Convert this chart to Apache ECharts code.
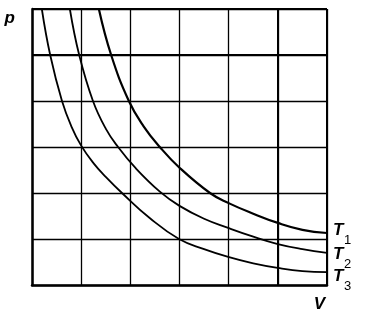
<!DOCTYPE html>
<html>
<head>
<meta charset="utf-8">
<script src="https://cdn.jsdelivr.net/npm/echarts@6/dist/echarts.min.js"></script>
<style>html,body{margin:0;padding:0;background:#fff}#c{width:368px;height:324px}</style>
</head>
<body>
<div id="c"></div>
<script>
// Isotherms p(V) in grid units (V: 0..6, p: 0..6)
var seriesNames = ['T1', 'T2', 'T3'];
var subscripts = ['1', '2', '3'];
var t1 = [[1.36,6.0],[1.61,5.0],[1.97,4.0],[2.27,3.45],[2.6,3.0],[3.0,2.55],[3.62,2.0],[4.0,1.78],[4.5,1.55],[5.0,1.35],[5.5,1.2],[6.0,1.13]];
var t2 = [[0.77,6.0],[0.96,5.0],[1.24,4.0],[1.5,3.4],[1.75,3.0],[2.1,2.55],[2.6,2.03],[3.0,1.72],[3.5,1.44],[3.99,1.24],[4.5,1.05],[5.0,0.89],[5.5,0.78],[6.0,0.70]];
var t3 = [[0.20,6.0],[0.37,5.0],[0.61,4.0],[0.8,3.45],[1.0,3.03],[1.25,2.65],[1.5,2.35],[1.83,2.0],[2.4,1.45],[2.99,1.0],[3.5,0.78],[3.99,0.61],[4.5,0.47],[5.0,0.37],[5.5,0.3],[6.0,0.28]];
var allData = [t1, t2, t3];
var axisMin = 0, axisMax = 6, axisInterval = 1;
var heavyV = [5, 6];
var heavyP = [5, 6];

// label placement (pixels relative to each curve's end)
var labelDy = [-8, -4, -1];
var labelDx = 6;

var chart = echarts.init(document.getElementById('c'), null, {renderer: 'canvas'});
var labelFont = 'Liberation Sans';

var series = allData.map(function (d, i) {
  var s = {
    name: seriesNames[i],
    type: 'line',
    data: d,
    smooth: 0.45,
    showSymbol: false,
    symbol: 'none',
    clip: true,
    lineStyle: {color: '#000', width: i === 0 ? 2.2 : 1.8}
  };
  if (i === 0) {
    s.markLine = {
      silent: true,
      symbol: 'none',
      label: {show: false},
      animation: false,
      lineStyle: {color: '#000', width: 2, type: 'solid'},
      data: heavyV.map(function (v) { return {xAxis: v}; }).concat(heavyP.map(function (p) { return {yAxis: p}; }))
    };
  }
  return s;
});

chart.setOption({
  animation: false,
  grid: {left: 32, right: 41, top: 9, bottom: 39},
  xAxis: {
    type: 'value', min: axisMin, max: axisMax, interval: axisInterval,
    name: 'V', nameLocation: 'end', nameGap: 0,
    nameTextStyle: {fontFamily: labelFont, fontSize: 17, fontWeight: 'bold', fontStyle: 'italic', color: '#000', align: 'right', verticalAlign: 'top', padding: [11, 2, 0, 0]},
    axisLine: {show: true, lineStyle: {color: '#000', width: 2.5}},
    axisTick: {show: false}, axisLabel: {show: false},
    splitLine: {show: true, lineStyle: {color: '#000', width: 1.3}}
  },
  yAxis: {
    type: 'value', min: axisMin, max: axisMax, interval: axisInterval,
    name: 'p', nameLocation: 'end', nameGap: 0,
    nameTextStyle: {fontFamily: labelFont, fontSize: 17, fontWeight: 'bold', fontStyle: 'italic', color: '#000', align: 'right', verticalAlign: 'top', padding: [1, 17, 0, 0]},
    axisLine: {show: true, lineStyle: {color: '#000', width: 2.5}},
    axisTick: {show: false}, axisLabel: {show: false},
    splitLine: {show: true, lineStyle: {color: '#000', width: 1.3}}
  },
  series: series
});

var els = [];
allData.forEach(function (d, i) {
  var last = d[d.length - 1];
  var pt = chart.convertToPixel({gridIndex: 0}, last);
  var x = pt[0] + labelDx, y = pt[1] + labelDy[i];
  els.push({type: 'text', left: x, top: y - 3, silent: true,
    style: {text: 'T', font: 'italic bold 17px "Liberation Sans"', fill: '#000'}});
  els.push({type: 'text', left: x + 11, top: y + 9, silent: true,
    style: {text: subscripts[i], font: '13px "Liberation Sans"', fill: '#000'}});
});
chart.setOption({graphic: els});
</script>
</body>
</html>
